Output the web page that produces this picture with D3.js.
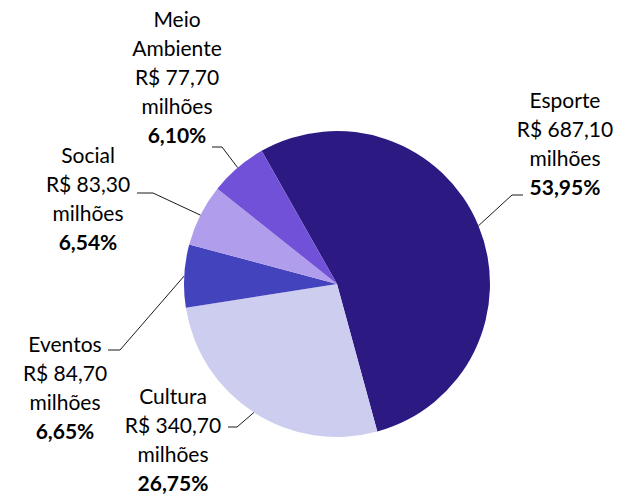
<!DOCTYPE html>
<html>
<head>
<meta charset="utf-8">
<script src="https://cdn.jsdelivr.net/npm/d3@7"></script>
<style>
  html, body { margin: 0; padding: 0; background: #fff; }
  svg { display: block; }
  text { font-family: Lato, "Noto Sans", sans-serif; font-size: 21px; fill: #000; }
</style>
</head>
<body>
<script>
// Investment by area (R$ millions)
const categories = ["Esporte", "Cultura", "Eventos", "Social", "Meio Ambiente"];
const values = [687.10, 340.70, 84.70, 83.30, 77.70];
const colors = ["#2c1a82", "#cdcdef", "#4443be", "#b09eec", "#7151d8"];

const W = 623, H = 496;
const cx = 337, cy = 284, radius = 153;
const startDeg = -29.5;

// Label blocks: centre x, first baseline, and where the leader line meets the text
const labelLayout = [
  { x: 565, y: 108, hook: [[523, 195], [512, 195]] },
  { x: 173, y: 404, hook: [[228, 427], [237, 427]] },
  { x: 65,  y: 352, hook: [[108, 350], [120, 350]] },
  { x: 88,  y: 163, hook: [[137, 193], [153, 193]] },
  { x: 177, y: 27,  hook: [[212, 147], [222, 147]] }
];
const lineStep = 29;

const total = d3.sum(values);
const fmtMoney = v => "R$ " + v.toFixed(2).replace(".", ",");
const fmtPct = v => (v * 100).toFixed(2).replace(".", ",") + "%";

const svg = d3.select("body").append("svg").attr("width", W).attr("height", H);

const rad = Math.PI / 180;
const pie = d3.pie().sort(null).value(d => d.value)
  .startAngle(startDeg * rad).endAngle((startDeg + 360) * rad);
const data = categories.map((c, i) => ({ name: c, value: values[i], color: colors[i] }));
const arcs = pie(data);
const arc = d3.arc().innerRadius(0).outerRadius(radius);

const g = svg.append("g").attr("transform", `translate(${cx},${cy})`);
g.selectAll("path").data(arcs).join("path")
  .attr("d", arc)
  .attr("fill", d => d.data.color);

// Leader lines: from the slice's outer midpoint to the label hook
arcs.forEach((a, i) => {
  const mid = (a.startAngle + a.endAngle) / 2;
  const ex = cx + radius * Math.sin(mid);
  const ey = cy - radius * Math.cos(mid);
  const h = labelLayout[i].hook;
  svg.append("path")
    .attr("d", d3.line()([h[0], h[1], [ex, ey]]))
    .attr("fill", "none")
    .attr("stroke", "#1a1a1a")
    .attr("stroke-width", 1);
});

// Labels
arcs.forEach((a, i) => {
  const L = labelLayout[i];
  const lines = a.data.name.split(" ").map(t => ({ t, bold: false }));
  lines.push({ t: fmtMoney(a.data.value), bold: false });
  lines.push({ t: "milhões", bold: false });
  lines.push({ t: fmtPct(a.data.value / total), bold: true });
  const txt = svg.append("text").attr("text-anchor", "middle");
  lines.forEach((ln, j) => {
    txt.append("tspan")
      .attr("x", L.x)
      .attr("y", L.y + j * lineStep)
      .attr("font-weight", ln.bold ? "bold" : "normal")
      .text(ln.t);
  });
});
</script>
</body>
</html>
